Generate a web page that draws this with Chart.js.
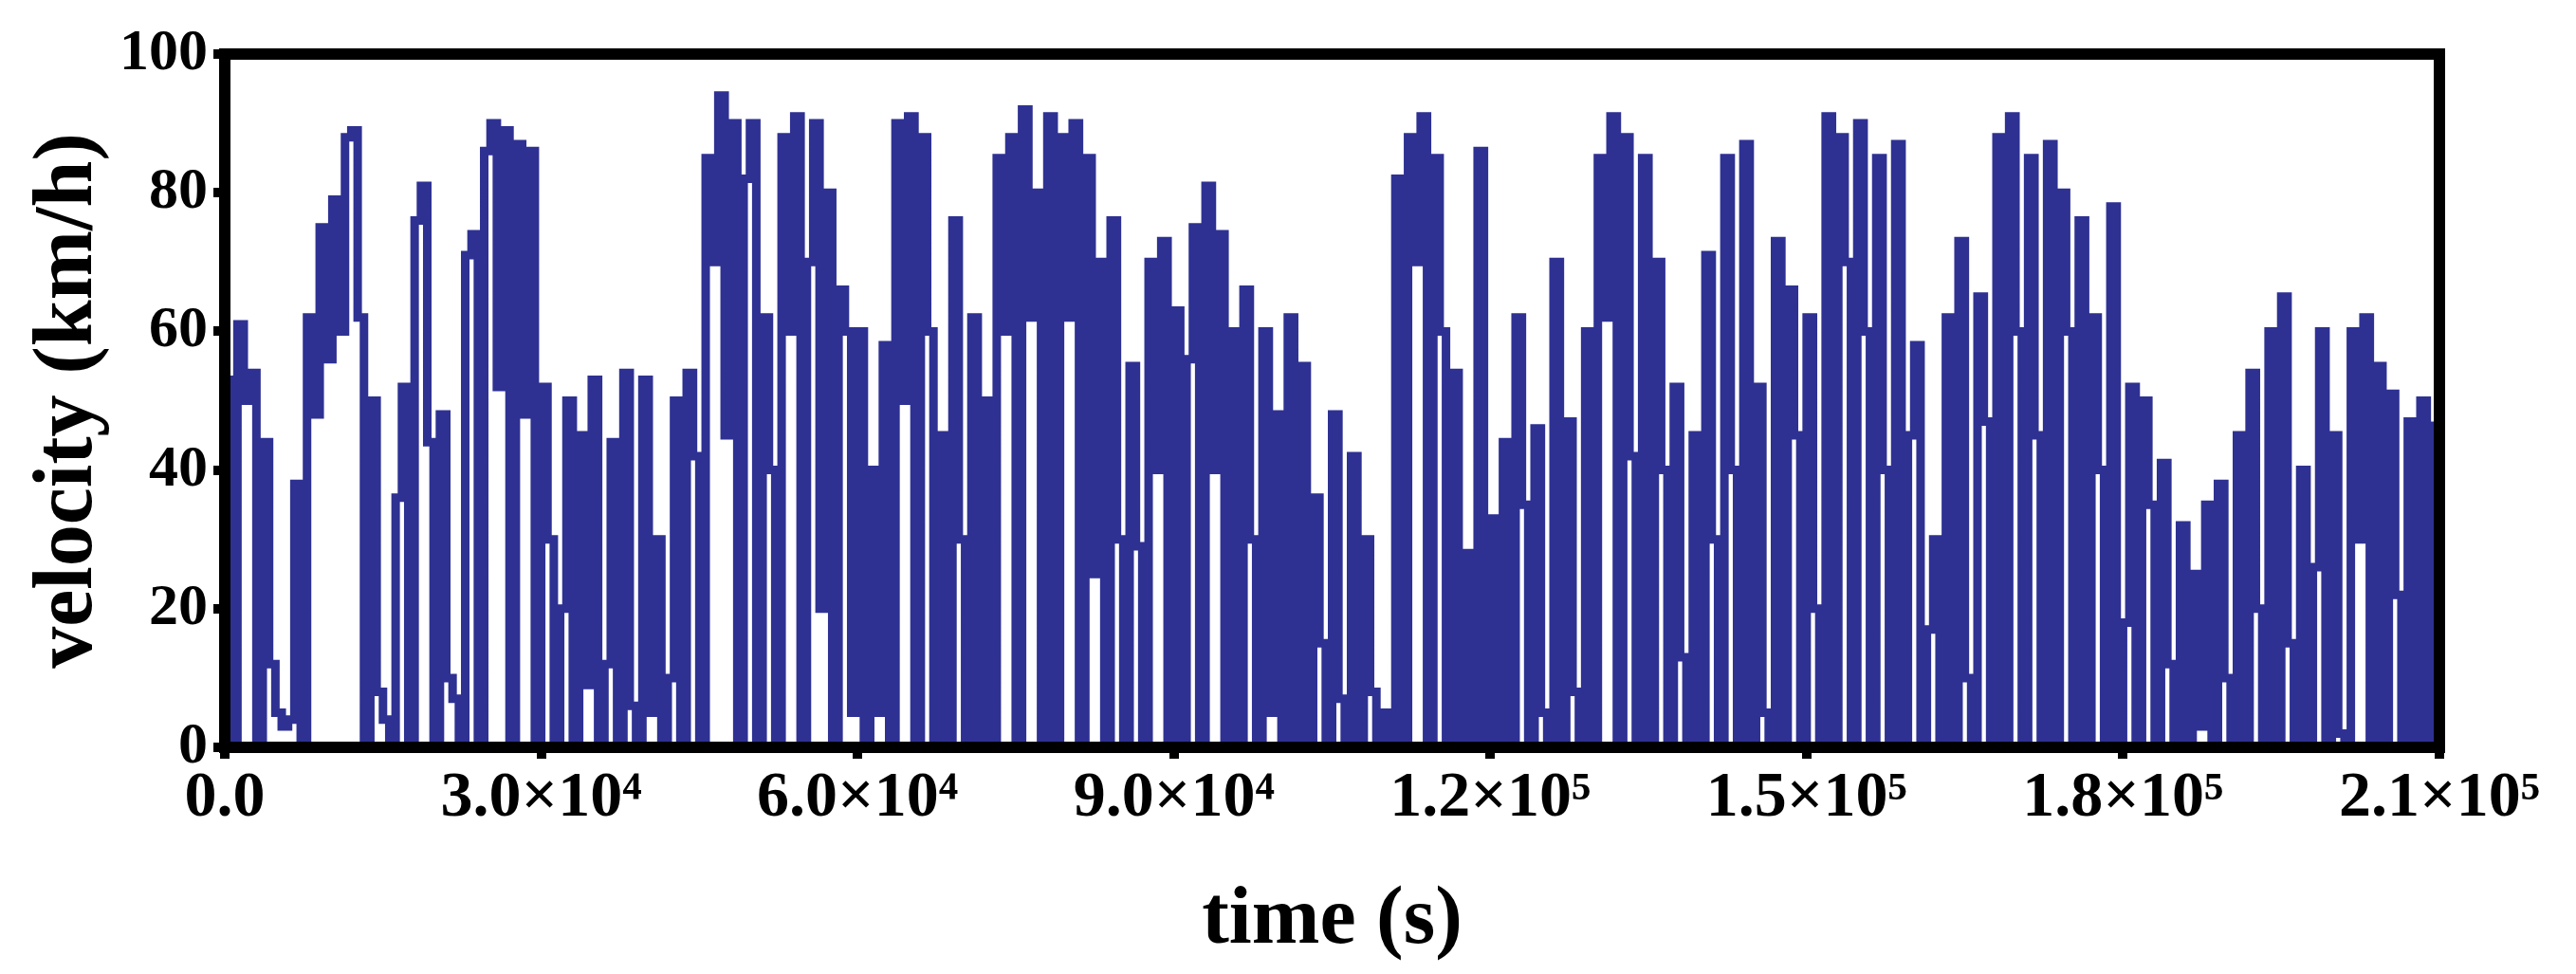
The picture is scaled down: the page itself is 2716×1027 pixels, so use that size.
<!DOCTYPE html>
<html><head><meta charset="utf-8">
<script src="https://cdn.jsdelivr.net/npm/chart.js@4"></script>
<style>html,body{margin:0;padding:0;background:#fff}#wrap{width:2716px;height:1027px}</style>
</head><body><div id="wrap"><canvas id="c" width="2716" height="1027"></canvas></div>
<script>
const timeStep = 600;
const velocity = [
53,0,61,50,54,0,44,12,5,3,
4,38,0,62,48,75,56,79,60,88,
89,62,0,50,8,4,0,36,52,0,
76,81,44,0,48,10,7,0,71,74,
0,86,90,52,89,0,87,48,86,0,
52,30,0,20,50,0,45,9,53,0,
12,44,0,54,6,0,53,5,30,0,
10,50,0,54,42,0,85,70,94,45,
90,0,82,90,0,62,40,0,88,60,
91,0,70,90,20,80,0,66,60,5,
60,0,40,5,58,0,90,50,91,0,
88,60,0,45,0,76,30,0,62,0,
50,0,85,60,88,0,92,62,80,0,
91,0,88,62,90,0,85,25,70,0,
76,30,0,55,29,0,70,40,73,0,
63,0,56,75,0,81,40,74,0,60,
0,66,30,0,60,5,48,0,62,0,
55,0,36,15,0,48,7,0,42,0,
30,8,0,5,0,82,0,88,70,91,
0,85,60,0,54,0,28,0,86,0,
33,0,44,0,62,35,0,46,5,0,
70,0,47,8,0,60,0,85,62,91,
0,88,42,0,85,0,70,40,0,52,
13,0,45,0,71,30,0,85,40,0,
87,0,52,5,0,73,0,66,45,0,
62,20,0,91,0,88,70,0,90,60,
0,85,40,0,87,0,45,58,0,17,
30,0,62,0,73,10,0,65,47,0,
88,0,91,60,0,85,45,0,87,0,
80,60,0,76,0,62,40,0,78,0,
18,52,0,50,35,0,41,12,0,32,
0,25,3,35,0,38,10,0,45,0,
54,20,0,60,0,65,15,0,40,0,
26,60,0,45,2,0,60,30,62,0,
55,0,51,22,0,47,0,50,0,47
];
const xTickValues = [0,30000,60000,90000,120000,150000,180000,210000];
const xTickLabels = ["0.0","3.0×10⁴","6.0×10⁴","9.0×10⁴","1.2×10⁵","1.5×10⁵","1.8×10⁵","2.1×10⁵"];
const yTickValues = [0,20,40,60,80,100];

const pts = velocity.map((v,i)=>({x:i*timeStep, y:v}));
const font = {family:'"Liberation Serif", "Times New Roman", serif', weight:'bold'};
const frame = {id:'frame', afterDatasetsDraw(ch){const a=ch.chartArea,c=ch.ctx;c.save();c.strokeStyle='#000';c.lineWidth=12;c.strokeRect(a.left,a.top,a.right-a.left,a.bottom-a.top);c.restore();}};
new Chart(document.getElementById('c'),{
 type:'line',
 data:{datasets:[{data:pts,borderColor:'#2e3192',borderWidth:9,pointRadius:0,stepped:true,fill:false}]},
 options:{responsive:false,animation:false,
  layout:{padding:{top:57,right:144,left:0,bottom:0}},
  plugins:{legend:{display:false},tooltip:{enabled:false}},
  scales:{
   x:{type:'linear',min:0,max:210000,
     afterBuildTicks(s){s.ticks=xTickValues.map(v=>({value:v}));},
     afterFit(s){s.height=239;},
     ticks:{callback:(v)=>{const i=xTickValues.indexOf(v);return i>=0?xTickLabels[i]:'';},font:{...font,size:68},color:'#000',maxRotation:0,padding:2},
     grid:{drawOnChartArea:false,tickLength:12,lineWidth:10,color:'#000'},
     border:{display:false},
     title:{display:true,text:'time (s)',font:{...font,size:86},color:'#000',padding:{top:14}}},
   y:{min:0,max:100,
     afterBuildTicks(s){s.ticks=yTickValues.map(v=>({value:v}));},
     afterFit(s){s.width=237;},
     ticks:{font:{...font,size:62},color:'#000',padding:6},
     grid:{drawOnChartArea:false,tickLength:12,lineWidth:10,color:'#000'},
     border:{display:false},
     title:{display:true,text:'velocity (km/h)',font:{...font,size:88},color:'#000',padding:{bottom:0,top:20}}}
  }},
 plugins:[frame]
});
</script></body></html>
